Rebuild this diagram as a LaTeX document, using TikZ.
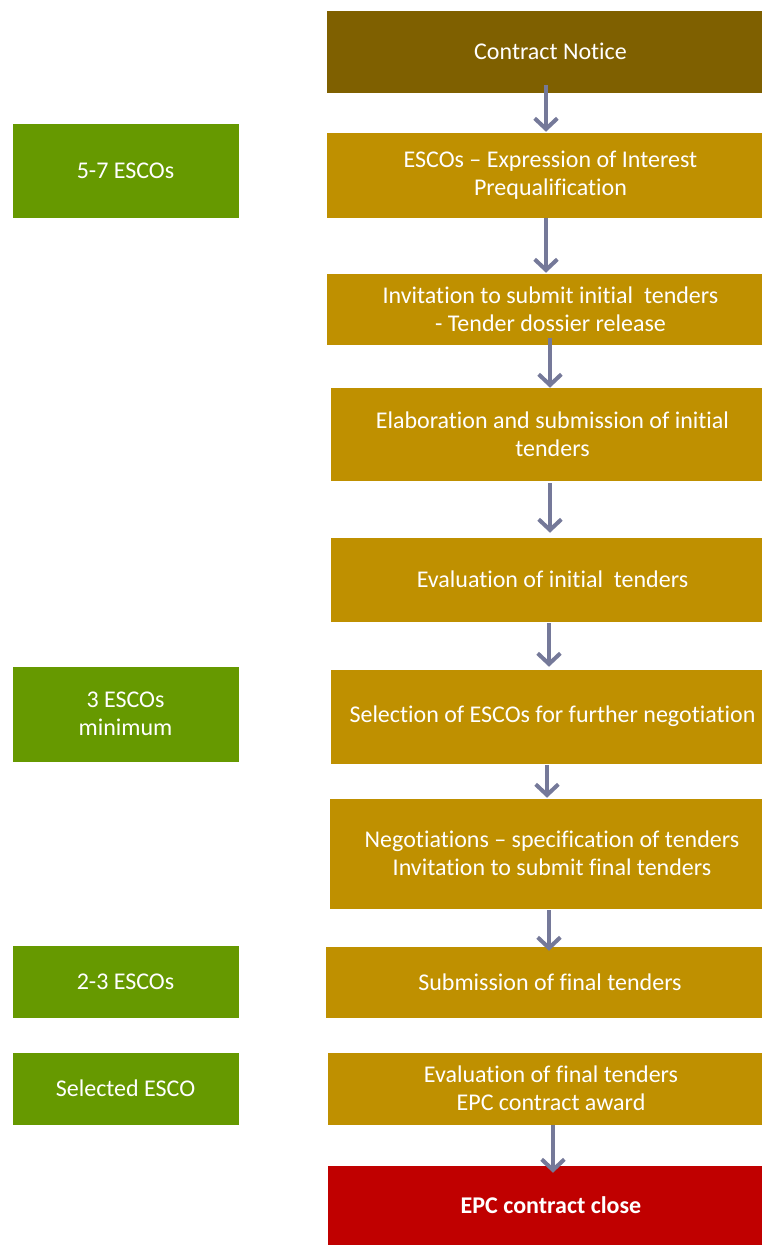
\documentclass[tikz,border=0pt]{standalone}
\usepackage{fontspec}
\setmainfont{Carlito}[Ligatures=NoCommon]
\usetikzlibrary{arrows.meta}

\definecolor{noticebrown}{HTML}{7F6000}
\definecolor{stepgold}{HTML}{BF9000}
\definecolor{countgreen}{HTML}{669900}
\definecolor{closered}{HTML}{C00000}
\definecolor{flowgrey}{RGB}{117,121,153}

\tikzset{
  box/.style={rectangle, draw=white, line width=0.4pt, text=white, align=center, inner sep=0pt,
              font=\fontsize{18}{21}\selectfont},
  stepbox/.style={box, fill=stepgold},
  countbox/.style={box, fill=countgreen, minimum width=170.25pt},
  flow/.style={draw=flowgrey, line width=3pt, -{Straight Barb[length=8pt, width=17pt]}},
}

\begin{document}
\begin{tikzpicture}[x=0.75pt, y=-0.75pt]
  \useasboundingbox (0,0) rectangle (762,1245);
  \clip (0,0) rectangle (762,1245);
  \fill[white] (0,0) rectangle (762,1245);

  % main process column
  \node[box, fill=noticebrown, minimum width=336.75pt, minimum height=62.25pt] (n1) at (550.5,51.5) {Contract Notice};
  \node[stepbox, minimum width=336.75pt, minimum height=64.5pt] (n2) at (550.5,175) {ESCOs -- Expression of Interest\\Prequalification};
  \node[stepbox, minimum width=336.75pt, minimum height=54pt] (n3) at (550.5,309) {Invitation to submit initial\ \ tenders\\- Tender dossier release};
  \node[stepbox, minimum width=333.75pt, minimum height=70.5pt] (n4) at (552.5,434) {Elaboration and submission of initial\\tenders};
  \node[stepbox, minimum width=333.75pt, minimum height=63.75pt] (n5) at (552.5,579.5) {Evaluation of initial\ \ tenders};
  \node[stepbox, minimum width=333.75pt, minimum height=71.25pt] (n6) at (552.5,716.5) {Selection of ESCOs for further negotiation};
  \node[stepbox, minimum width=334.5pt, minimum height=83.25pt] (n7) at (552,853.5) {Negotiations -- specification of tenders\\Invitation to submit final tenders};
  \node[stepbox, minimum width=337.5pt, minimum height=54pt] (n8) at (550,982) {Submission of final tenders};
  \node[stepbox, minimum width=336pt, minimum height=54.75pt] (n9) at (551,1088.5) {Evaluation of final tenders\\EPC contract award};
  \node[box, fill=closered, minimum width=336pt, minimum height=60pt, font=\fontsize{18}{21}\selectfont\bfseries] (n10) at (551,1205) {EPC contract close};

  % number of bidders at each stage
  \node[countbox, minimum height=71.25pt] (g1) at (125.5,170.5) {5-7 ESCOs};
  \node[countbox, minimum height=72pt] (g2) at (125.5,714) {3 ESCOs\\minimum};
  \node[countbox, minimum height=54.75pt] (g3) at (125.5,981.5) {2-3 ESCOs};
  \node[countbox, minimum height=54.75pt] (g4) at (125.5,1088.5) {Selected ESCO};

  % flow arrows
  \draw[flow] ([xshift=-3.375pt, yshift=6pt]n1.south) -- ([xshift=-3.375pt]n2.north);
  \draw[flow] ([xshift=-3.375pt]n2.south) -- ([xshift=-3.375pt]n3.north);
  \draw[flow] ([xshift=-0.375pt, yshift=5.25pt]n3.south) -- ([xshift=-1.875pt, yshift=-0.75pt]n4.north);
  \draw[flow] ([xshift=-1.875pt, yshift=-1.5pt]n4.south) -- ([xshift=-1.875pt, yshift=3pt]n5.north);
  \draw[flow] ([xshift=-2.625pt, yshift=-0.75pt]n5.south) -- ([xshift=-2.625pt, yshift=1.5pt]n6.north);
  \draw[flow] ([xshift=-4.125pt, yshift=-0.75pt]n6.south) -- ([xshift=-3.75pt]n7.north);
  \draw[flow] ([xshift=-2.25pt, yshift=-0.75pt]n7.south) -- ([xshift=-0.75pt, yshift=-3.75pt]n8.north);
  \draw[flow] ([xshift=1.5pt]n9.south) -- ([xshift=1.5pt, yshift=-6pt]n10.north);
\end{tikzpicture}
\end{document}
